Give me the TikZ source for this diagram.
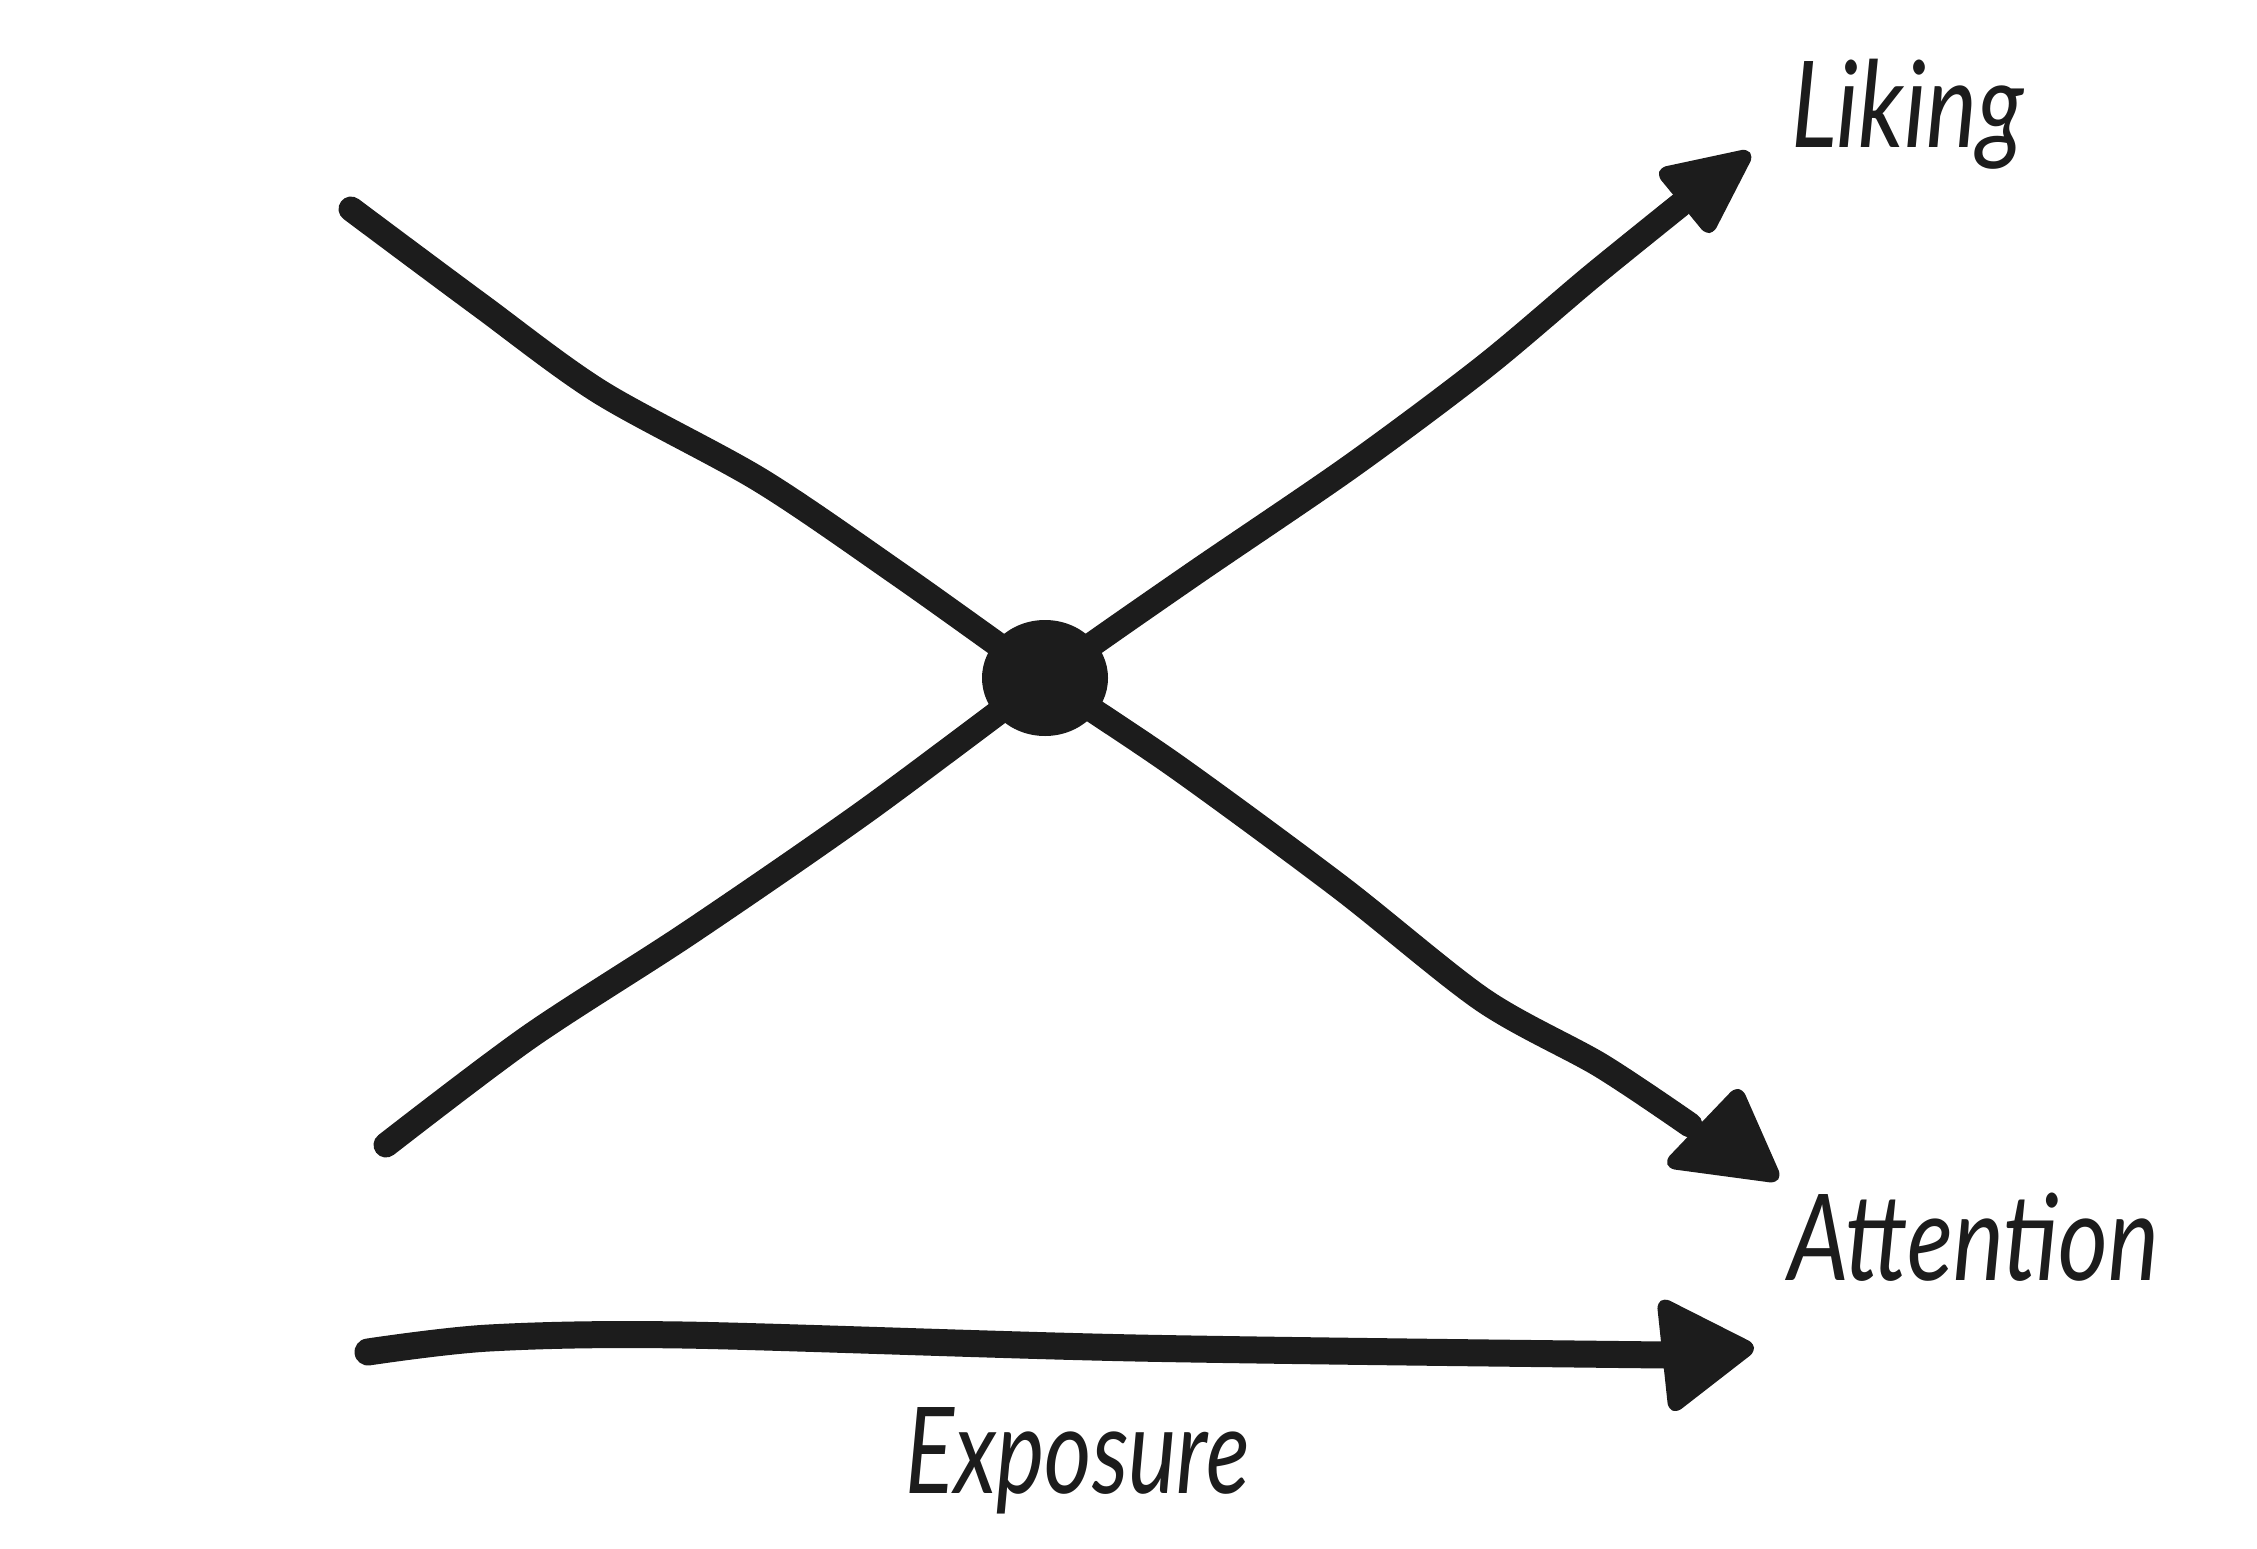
\documentclass[tikz,border=0pt]{standalone}
\usepackage{fontspec}
\newfontfamily\handfont[FakeStretch=0.8]{Lato}
\newfontfamily\handfontnarrow[FakeStretch=0.76]{Lato}
\usetikzlibrary{shapes.geometric}
\definecolor{ink}{RGB}{28,28,28}
\tikzset{
  stroke/.style={draw=ink, line width=25pt, line cap=round, line join=round},
  headtip/.style={fill=ink, draw=ink, line width=12pt, line join=round, rounded corners=4pt},
  hubdot/.style={ellipse, fill=ink, minimum width=126pt, minimum height=116pt, inner sep=0pt},
  lbl/.style={text=ink, inner sep=0pt, anchor=base west, font=\handfont\itshape\fontsize{120pt}{120pt}\selectfont}
}
\begin{document}
\begin{tikzpicture}[x=1pt, y=-1pt]
\useasboundingbox[fill=white] (0,0) rectangle (2257,1549);
% named points
\coordinate (as) at (351,209);
\coordinate (ae) at (1690,1125);
\coordinate (ls) at (386,1145);
\coordinate (le) at (1680,205);
\coordinate (es) at (368,1352);
\coordinate (ee) at (1665,1355);
\node[hubdot] (hub) at (1045,678) {};
% attention line (descending)
\draw[stroke] plot[smooth, tension=0.5] coordinates {(as) (480,305) (600,392) (760,480) (900,575) (hub.center) (1177,767) (1340,887) (1483,1000) (1600,1065) (ae)};
% liking line (ascending)
\draw[stroke] plot[smooth, tension=0.5] coordinates {(ls) (529,1037) (689,933) (863,813) (hub.center) (1189,577) (1350,467) (1484,367) (1591,277) (le)};
% exposure line
\draw[stroke, line width=27pt] plot[smooth, tension=0.5] coordinates {(es) (489,1338) (683,1335) (1136,1348) (ee)};
% arrow heads
\filldraw[headtip] (1663,173) -- (1747,155) -- (1709,229) -- cycle;
\filldraw[headtip] (1738,1093) -- (1775,1177) -- (1671,1163) -- cycle;
\filldraw[headtip] (1663,1304) -- (1750,1348) -- (1674,1407) -- cycle;
% labels
\node[lbl] (liking) at (1791,148) {Liking};
\node[lbl] (attention) at (1788,1280) {Attention};
\node[lbl, font=\handfontnarrow\itshape\fontsize{120pt}{120pt}\selectfont] (exposure) at (905,1493) {Exposure};
\end{tikzpicture}
\end{document}
